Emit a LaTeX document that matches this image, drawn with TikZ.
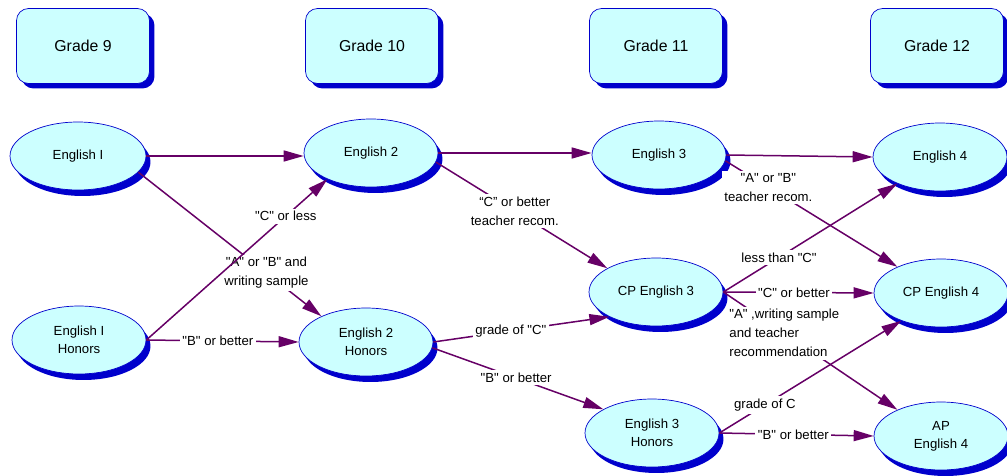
\documentclass[tikz,border=0pt]{standalone}
\usepackage{fontspec}
\setmainfont{Liberation Sans}[Ligatures=TeXOff]
\usetikzlibrary{shapes.geometric,arrows.meta,shadows}

\definecolor{cellfill}{RGB}{204,255,255}
\definecolor{cellline}{RGB}{0,0,204}
\definecolor{flowline}{RGB}{102,0,102}

\tikzset{
  grade/.style={draw=cellline, fill=cellfill, rounded corners=0.24cm,
    minimum width=2.66cm, minimum height=1.5cm, font=\fontsize{9}{11}\selectfont,
    drop shadow={fill=cellline, opacity=1, shadow xshift=0.1cm, shadow yshift=-0.1cm}},
  course/.style={ellipse, draw=cellline, fill=cellfill, inner sep=0pt,
    minimum width=2.68cm, minimum height=1.36cm, align=center,
    font=\fontsize{7.5}{10.4}\selectfont,
    drop shadow={fill=cellline, opacity=1, shadow xshift=0.09cm, shadow yshift=-0.12cm}},
  flow/.style={draw=flowline, line width=0.03cm, -{Triangle[length=0.4cm,width=0.22cm]}},
  cond/.style={fill=white, inner sep=1.5pt, align=center, text=black,
    font=\fontsize{7.5}{10.8}\selectfont}
}

\begin{document}
\begin{tikzpicture}[x=0.02cm, y=-0.02cm]
                        \useasboundingbox (0,0) rectangle (1007,476);

                        % Drawing grade boxes
                        \node [grade] (g9)  at (83,46)  {Grade 9};
                        \node [grade] (g10) at (372,46) {Grade 10};
                        \node [grade] (g11) at (656,46) {Grade 11};
                        \node [grade] (g12) at (937,46) {Grade 12};

                        % Drawing courses
                        \node [course, minimum width=2.72cm] (e1) at (78,156) {English I};
                        \node [course] (e1h) at (79,340)  {English I\\Honors};
                        \node [course] (e2)  at (371,153) {English 2};
                        \node [course] (e2h) at (366,342) {English 2\\Honors};
                        \node [course] (e3)  at (659,155) {English 3};
                        \node [course] (cp3) at (656,292) {CP English 3};
                        \node [course] (e3h) at (652,433) {English 3\\Honors};
                        \node [course] (e4)  at (940,157) {English 4};
                        \node [course] (cp4) at (941,293) {CP English 4};
                        \node [course] (ap4) at (941,436) {AP\\English 4};

                        % Drawing grade 9 to grade 10
                        \draw [flow] (e1.east) -- (e1.east -| e2.west);
                        \draw [flow] (e1.-15) -- node [cond, pos=0.7] {"A" or "B" and\\writing sample} (e2h.150);
                        \draw [flow] (e1h.east) -- node [cond, pos=0.77] {"C" or less} (e2.-149);
                        \draw [flow] (e1h.east) -- node [cond, pos=0.47] {"B" or better} (e2h.west);

                        % Drawing grade 10 to grade 11
                        \draw [flow] (e2.east) -- (e2.east -| e3.west);
                        \draw [flow] (e2.-8) -- node [cond, pos=0.46] {“C” or better\\teacher recom.} (cp3.154);
                        \draw [flow] (e2h.east) -- node [cond, pos=0.44] {grade of "C"} (cp3.-152);
                        \draw [flow] (e2h.-5) -- node [cond, pos=0.49] {"B" or better} (e3h.154);

                        % Drawing grade 11 to grade 12
                        \draw [flow] (e3.east) -- (e4.west);
                        \draw [flow] (e3.-5) -- node [cond, pos=0.25] {"A" or "B"\\teacher recom.} (cp4.149);
                        \draw [flow] (cp3.east) -- node [cond, pos=0.32] {less than "C"} (e4.-148);
                        \draw [flow] (cp3.east) -- node [cond, pos=0.47] {"C" or better} (cp4.west);
                        \draw [flow] (cp3.east) -- node [cond, pos=0.35, align=left] {"A" ,writing sample\\and teacher\\recommendation} (ap4.149);
                        \draw [flow] (e3h.east) -- node [cond, pos=0.25] {grade of C} (cp4.-145);
                        \draw [flow] (e3h.east) -- node [cond, pos=0.48] {"B" or better} (ap4.west);
\end{tikzpicture}
\end{document}
